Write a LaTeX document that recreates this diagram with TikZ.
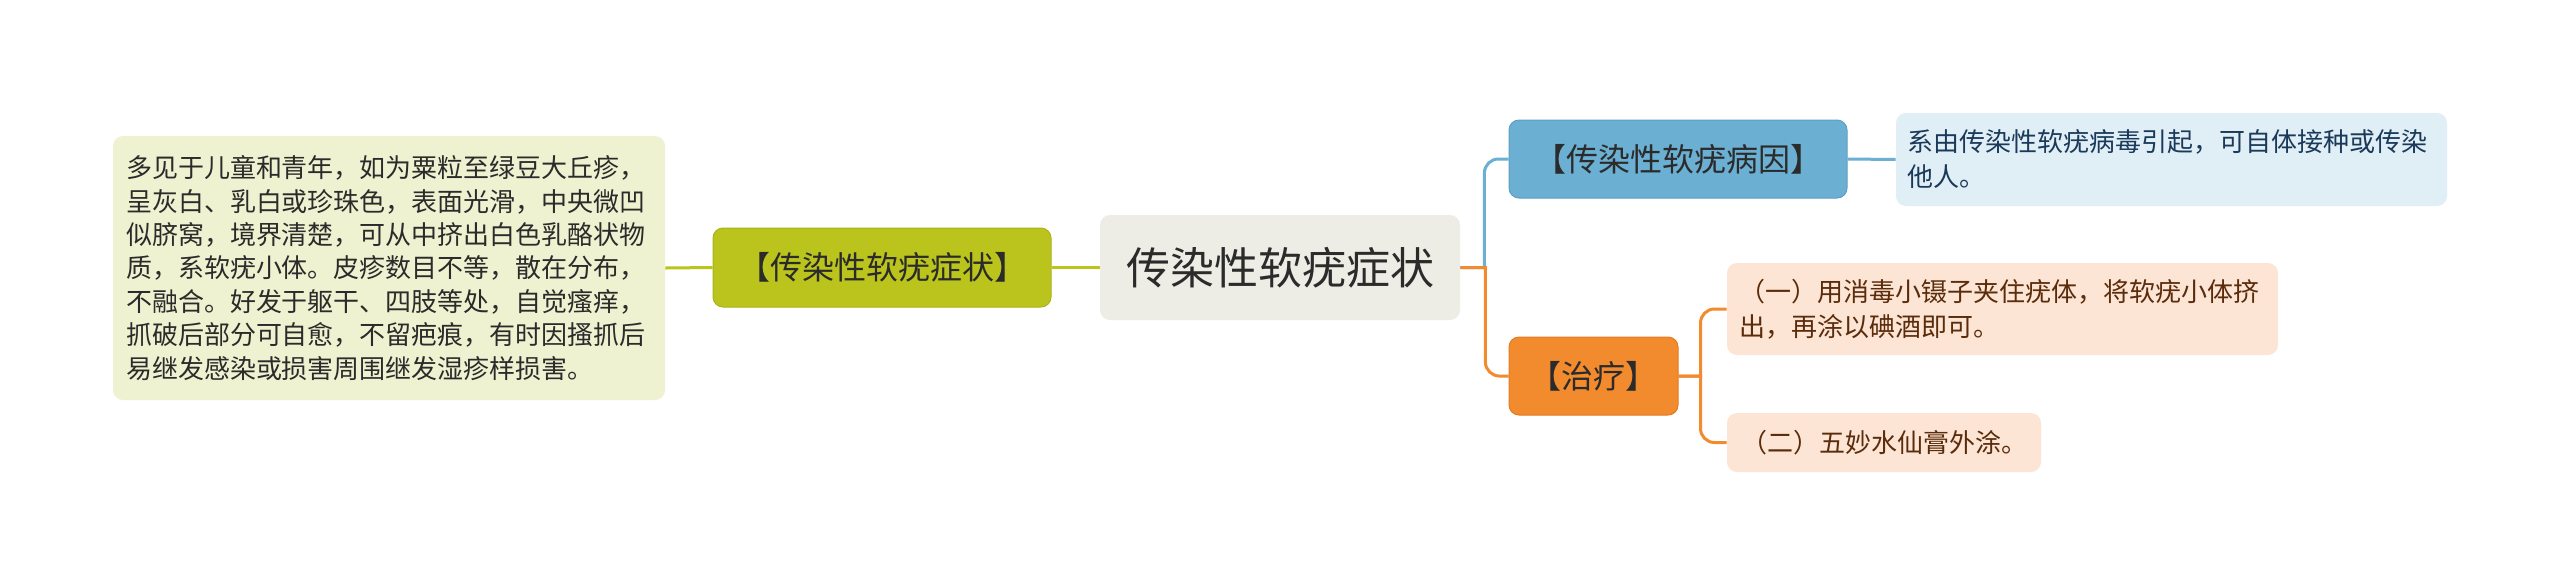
\documentclass[tikz,border=0pt]{standalone}
\usepackage{fontspec}
\setmainfont{Noto Sans CJK SC}
\definecolor{leftfill}{HTML}{EFF2D0}
\definecolor{greenc}{HTML}{BBC41C}
\definecolor{greend}{HTML}{AAB318}
\definecolor{centerfill}{HTML}{EDEDE5}
\definecolor{bluec}{HTML}{6BAFD2}
\definecolor{blued}{HTML}{5E9FC2}
\definecolor{lbfill}{HTML}{E0EEF6}
\definecolor{lbtext}{HTML}{1B3A5A}
\definecolor{orangec}{HTML}{F28A2E}
\definecolor{oranged}{HTML}{E27C22}
\definecolor{peach}{HTML}{FCE5D4}
\definecolor{browntext}{HTML}{5B2C0C}
\definecolor{darktext}{HTML}{2B2B2B}
\begin{document}
\begin{tikzpicture}[x=0.5pt,y=-0.5pt,
  box/.style={rectangle, rounded corners=5pt, inner ysep=0pt, anchor=center},
  small/.style={font=\fontsize{13pt}{17.5pt}\selectfont},
  mid/.style={font=\fontsize{16pt}{19pt}\selectfont, text=darktext, inner xsep=2pt},
  link/.style={line width=1.5pt},
]
\useasboundingbox (0,0) rectangle (2560,585);
\fill[white] (0,0) rectangle (2560,585);

\node[box, fill=leftfill, minimum width=276pt, minimum height=132pt, text width=263pt, inner xsep=6.5pt, align=left, font=\fontsize{13pt}{16.7pt}\selectfont, text=darktext] (L) at (389,268) {多见于儿童和青年，如为粟粒至绿豆大丘疹，\\呈灰白、乳白或珍珠色，表面光滑，中央微凹\\似脐窝，境界清楚，可从中挤出白色乳酪状物\\质，系软疣小体。皮疹数目不等，散在分布，\\不融合。好发于躯干、四肢等处，自觉瘙痒，\\抓破后部分可自愈，不留疤痕，有时因搔抓后\\易继发感染或损害周围继发湿疹样损害。};

\node[box, mid, fill=greenc, draw=greend, line width=0.5pt, minimum width=169pt, minimum height=39.5pt] (G) at (882,267.5) {【传染性软疣症状】};

\node[box, fill=centerfill, minimum width=180pt, minimum height=52.5pt, font=\fontsize{22pt}{26pt}\selectfont, text=darktext] (C) at (1280,267.5) {传染性软疣症状};

\node[box, mid, fill=bluec, draw=blued, line width=0.5pt, minimum width=169pt, minimum height=39pt] (B) at (1678,159) {【传染性软疣病因】};

\node[box, small, fill=lbfill, text=lbtext, minimum width=275.5pt, minimum height=46.5pt, text width=264.5pt, inner xsep=5.5pt, align=left] (LB) at (2171.5,159.5) {系由传染性软疣病毒引起，可自体接种或传染\\他人。};

\node[box, mid, fill=orangec, draw=oranged, line width=0.5pt, minimum width=84.5pt, minimum height=39pt] (O) at (1593.5,376) {【治疗】};

\node[box, small, fill=peach, text=browntext, minimum width=275.5pt, minimum height=46pt, text width=263.5pt, inner xsep=6pt, align=left] (P1) at (2002.5,309) {（一）用消毒小镊子夹住疣体，将软疣小体挤\\出，再涂以碘酒即可。};

\node[box, small, fill=peach, text=browntext, minimum width=157pt, minimum height=29.5pt] (P2) at (1884,442.5) {（二）五妙水仙膏外涂。};

\draw[link, greenc] (G.east) -- (C.west);
\draw[link, greenc] (L.east) -- (G.west);
\draw[link, bluec] (C.east) -- ++(24,0) [rounded corners=7pt] |- (B.west);
\draw[link, orangec] (C.east) -- ++(25,0) [rounded corners=7pt] |- (O.west);
\draw[link, bluec] (B.east) -- (LB.west);
\draw[link, orangec] (O.east) -- ++(22,0) [rounded corners=7pt] |- (P1.west);
\draw[link, orangec] (O.east) -- ++(22,0) [rounded corners=7pt] |- (P2.west);
\end{tikzpicture}
\end{document}
